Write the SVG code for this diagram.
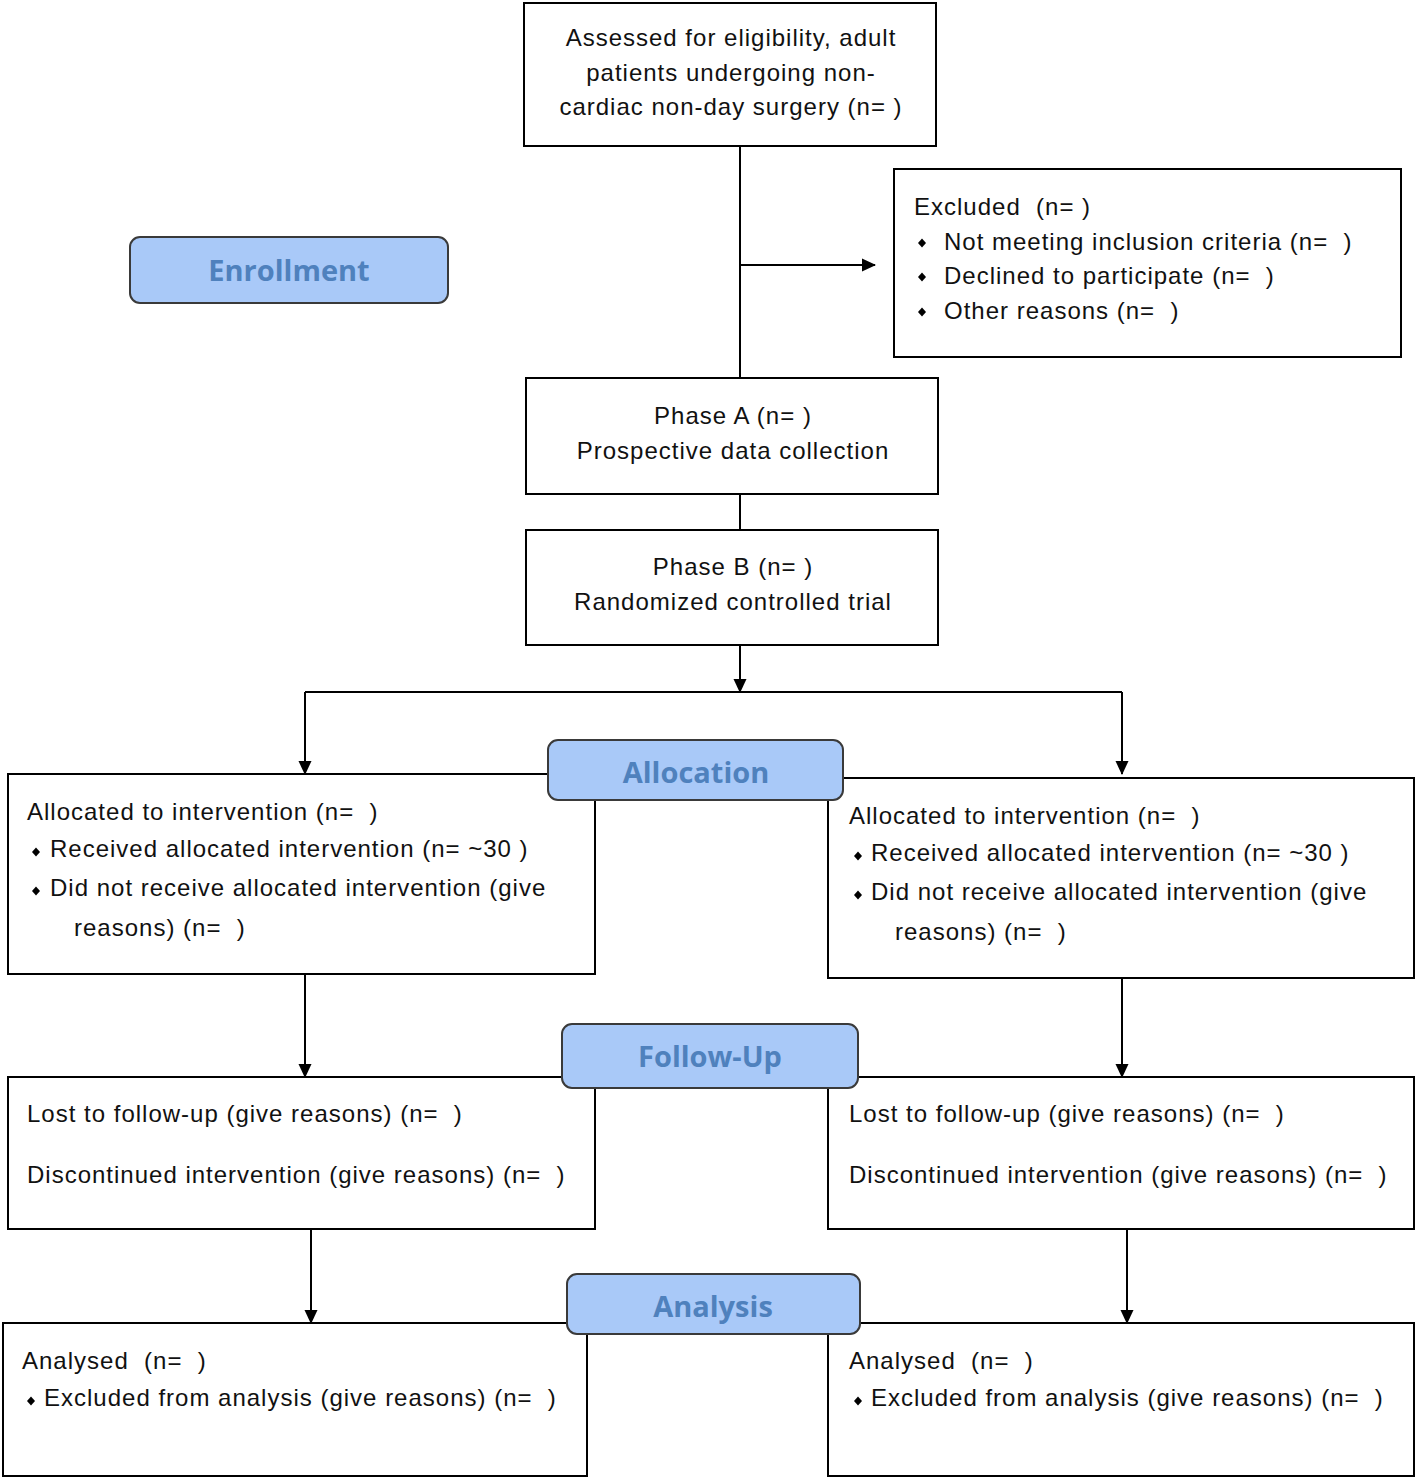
<svg xmlns="http://www.w3.org/2000/svg" width="1418" height="1480" viewBox="0 0 1418 1480">
<defs>
<marker id="arr" markerWidth="14" markerHeight="14" refX="13" refY="7" orient="auto" markerUnits="userSpaceOnUse">
<path d="M0,0.5 L14,7 L0,13.5 Z" fill="#000"/>
</marker>
<path id="bul" d="M0,-4.5 L4,0 L0,4.5 L-4,0 Z" fill="#000"/>
<style>
.box{fill:#fff;stroke:#000;stroke-width:2}
.lbl{fill:#a9c9f8;stroke:#3a3a3a;stroke-width:2}
.t{font-family:"Liberation Sans",Arial,sans-serif;font-size:24px;fill:#111;letter-spacing:1px;white-space:pre}
.c{text-anchor:middle}
.h{font-family:"Open Sans","Liberation Sans",sans-serif;font-weight:bold;font-size:29px;fill:#4f81bd;text-anchor:middle}
.ln{stroke:#000;stroke-width:2;fill:none}
</style>
</defs>
<rect width="1418" height="1480" fill="#fff"/>

<g id="connectors">
<path class="ln" d="M740,146 V378"/>
<path class="ln" d="M740,265 H875" marker-end="url(#arr)"/>
<path class="ln" d="M740,494 V530"/>
<path class="ln" d="M740,645 V692" marker-end="url(#arr)"/>
<path class="ln" d="M305,692 H1122"/>
<path class="ln" d="M305,692 V774" marker-end="url(#arr)"/>
<path class="ln" d="M1122,692 V774" marker-end="url(#arr)"/>
<path class="ln" d="M305,974 V1077" marker-end="url(#arr)"/>
<path class="ln" d="M1122,978 V1077" marker-end="url(#arr)"/>
<path class="ln" d="M311,1229 V1323" marker-end="url(#arr)"/>
<path class="ln" d="M1127,1229 V1323" marker-end="url(#arr)"/>
</g>

<g id="assessed">
<rect class="box" x="524" y="3" width="412" height="143"/>
<text class="t c" x="731" y="46">Assessed for eligibility, adult</text>
<text class="t c" x="731" y="81">patients undergoing non-</text>
<text class="t c" x="731" y="115">cardiac non-day surgery (n= )</text>
</g>

<g id="enrollment">
<rect class="lbl" x="130" y="237" width="318" height="66" rx="10"/>
<text class="h" x="289" y="281">Enrollment</text>
</g>

<g id="excluded">
<rect class="box" x="894" y="169" width="507" height="188"/>
<text class="t" x="914" y="215">Excluded  (n= )</text>
<use href="#bul" x="922" y="243"/>
<text class="t" x="944" y="250">Not meeting inclusion criteria (n=  )</text>
<use href="#bul" x="922" y="277"/>
<text class="t" x="944" y="284">Declined to participate (n=  )</text>
<use href="#bul" x="922" y="312"/>
<text class="t" x="944" y="319">Other reasons (n=  )</text>
</g>

<g id="phaseA">
<rect class="box" x="526" y="378" width="412" height="116"/>
<text class="t c" x="733" y="424">Phase A (n= )</text>
<text class="t c" x="733" y="459">Prospective data collection</text>
</g>

<g id="phaseB">
<rect class="box" x="526" y="530" width="412" height="115"/>
<text class="t c" x="733" y="575">Phase B (n= )</text>
<text class="t c" x="733" y="610">Randomized controlled trial</text>
</g>

<g id="allocLeft">
<rect class="box" x="8" y="774" width="587" height="200"/>
<text class="t" x="27" y="820">Allocated to intervention (n=  )</text>
<use href="#bul" x="36" y="852"/>
<text class="t" x="50" y="857">Received allocated intervention (n= ~30 )</text>
<use href="#bul" x="36" y="891"/>
<text class="t" x="50" y="896">Did not receive allocated intervention (give</text>
<text class="t" x="74" y="936">reasons) (n=  )</text>
</g>

<g id="allocRight">
<rect class="box" x="828" y="778" width="586" height="200"/>
<text class="t" x="849" y="824">Allocated to intervention (n=  )</text>
<use href="#bul" x="858" y="856"/>
<text class="t" x="871" y="861">Received allocated intervention (n= ~30 )</text>
<use href="#bul" x="858" y="895"/>
<text class="t" x="871" y="900">Did not receive allocated intervention (give</text>
<text class="t" x="895" y="940">reasons) (n=  )</text>
</g>

<g id="allocation">
<rect class="lbl" x="548" y="740" width="295" height="60" rx="10"/>
<text class="h" x="696" y="783">Allocation</text>
</g>

<g id="followLeft">
<rect class="box" x="8" y="1077" width="587" height="152"/>
<text class="t" x="27" y="1122">Lost to follow-up (give reasons) (n=  )</text>
<text class="t" x="27" y="1183">Discontinued intervention (give reasons) (n=  )</text>
</g>

<g id="followRight">
<rect class="box" x="828" y="1077" width="586" height="152"/>
<text class="t" x="849" y="1122">Lost to follow-up (give reasons) (n=  )</text>
<text class="t" x="849" y="1183">Discontinued intervention (give reasons) (n=  )</text>
</g>

<g id="followup">
<rect class="lbl" x="562" y="1024" width="296" height="64" rx="10"/>
<text class="h" x="710" y="1067">Follow-Up</text>
</g>

<g id="analysisLeft">
<rect class="box" x="3" y="1323" width="584" height="153"/>
<text class="t" x="22" y="1369">Analysed  (n=  )</text>
<use href="#bul" x="31" y="1401"/>
<text class="t" x="44" y="1406">Excluded from analysis (give reasons) (n=  )</text>
</g>

<g id="analysisRight">
<rect class="box" x="828" y="1323" width="586" height="153"/>
<text class="t" x="849" y="1369">Analysed  (n=  )</text>
<use href="#bul" x="858" y="1401"/>
<text class="t" x="871" y="1406">Excluded from analysis (give reasons) (n=  )</text>
</g>

<g id="analysis">
<rect class="lbl" x="567" y="1274" width="293" height="60" rx="10"/>
<text class="h" x="713" y="1317">Analysis</text>
</g>
</svg>
